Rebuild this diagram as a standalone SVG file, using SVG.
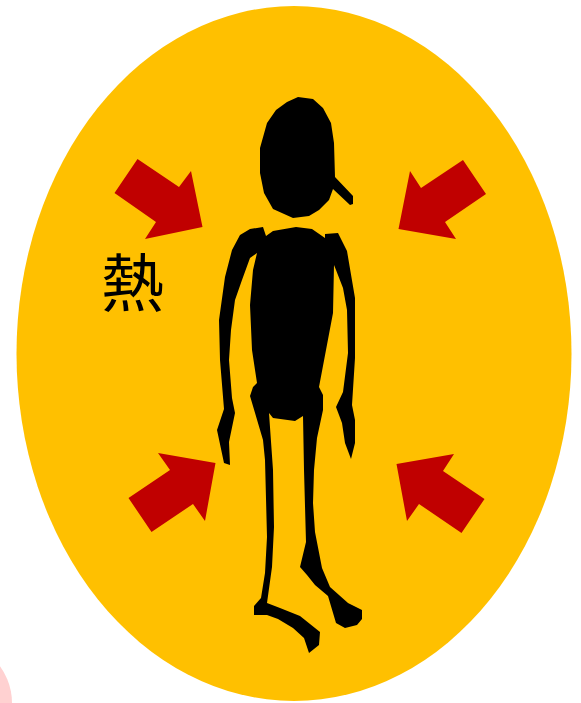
<svg xmlns="http://www.w3.org/2000/svg" width="581" height="703" viewBox="0 0 581 703">
<style>
.red{fill:#C00000}
.blk{fill:#000}
text{font-family:"Noto Sans CJK TC","Noto Sans CJK SC",sans-serif;font-size:63px;fill:#000}
</style>
<rect width="581" height="703" fill="#fff"/>
<circle cx="-50" cy="703" r="62" fill="#FFD1D1"/>
<ellipse cx="294" cy="353.500" rx="277.500" ry="347.500" fill="#FFC000"/>
<polygon class="red" points="137.500,159 179,187 191,171 202.500,227 145,239 156,222 114.500,193"/>
<polygon class="red" points="463,160 486,194 445,222 456,239 398.500,229 410,171 421,188"/>
<polygon class="red" points="128.500,498 170,470 158,453 215.500,463 205,521 193,504 151.500,532"/>
<polygon class="red" points="484.500,499 443,471 454,454 396.500,464 407,521 419,504 461.500,533"/>
<text x="101" y="306">熱</text>
<polygon class="blk" points="298,97 313,99 323,108 331,123 334,143 335,177 353,196 353,204 350,205 333,189 329,200 319,210 309,216 293,218 273,209 264,193 260,173 260,148 267,123 276,110 287,102"/>
<polygon class="blk" points="250,229 263,227 266,236 273,231 296,227 312,229 325,238 325,234 338,233 347,251 355,298 355,358 352,405 355,420 355,443 351,459 345,443 342,423 336,407 343,392 348,353 347,310 343,288 336,270 334,265 333,313 319,387 323,395 323,410 317,438 314,470 313,503 315,532 322,568 330,587 348,603 362,610 362,619 357,625 345,628 336,623 328,596 315,585 307,575 300,567 306,542 304,470 303,416 295,421 273,418 269,413 273,470 274,527 272,567 267,603 280,608 300,616 320,632 319,645 309,653 304,638 293,628 278,619 267,615 254,615 254,606 261,598 265,573 267,537 265,460 263,440 250,396 253,387 257,383 252,350 250,305 253,270 257,253 250,258 242,280 235,300 231,330 229,360 232,398 235,413 229,442 230,465 224,463 217,430 224,409 220,360 219,320 225,277 232,250 240,235"/>
</svg>
